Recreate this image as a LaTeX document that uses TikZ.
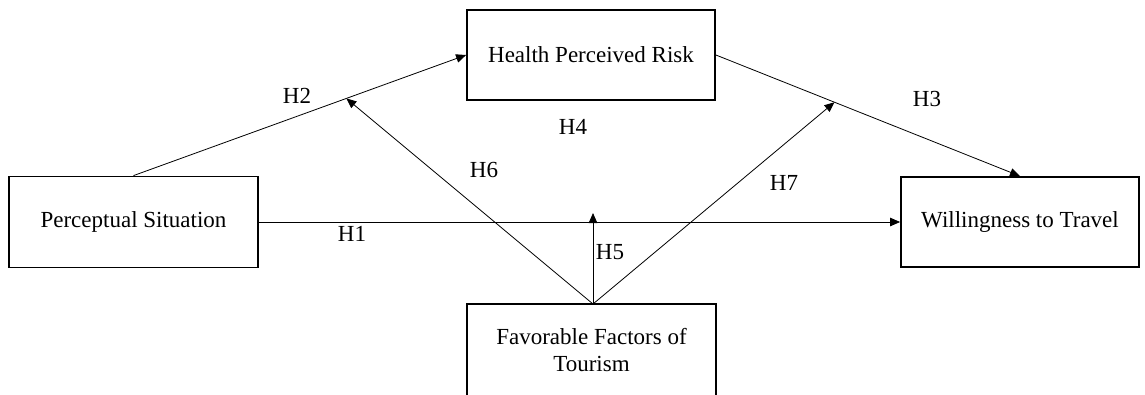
\documentclass[tikz,border=0pt]{standalone}
\usepackage{fontspec}
\setmainfont{Liberation Serif}
\usetikzlibrary{arrows.meta,calc}
\begin{document}
\begin{tikzpicture}[x=1pt,y=-1pt,
  box/.style={draw=black,line width=1.8pt,fill=white,inner sep=0pt,align=center,
    font=\fontsize{23}{27}\selectfont},
  link/.style={draw=black,line width=0.8pt,-{Triangle[length=10pt,width=8.5pt]}},
  lab/.style={font=\fontsize{23}{27}\selectfont,inner sep=0pt}]
\clip (0,0) rectangle (1145,394);
\fill[white] (0,0) rectangle (1145,394);
\node[box,minimum width=249pt,minimum height=91pt] (P) at (133.5,222) {Perceptual Situation};
\node[box,minimum width=248pt,minimum height=90pt] (H) at (591,55) {Health Perceived Risk};
\node[box,minimum width=238pt,minimum height=90pt] (W) at (1020,222) {Willingness to Travel};
\node[box,minimum width=249pt,minimum height=92pt] (F) at (591.5,350) {Favorable Factors of\\Tourism};
\coordinate (m5) at (593,213);
\draw[link] (P.east) -- (W.west);
\draw[link] (P.north) -- (H.west);
\draw[link] (H.east) -- (W.north);
\coordinate (m6) at ($(P.north)!0.64!(H.west)$);
\coordinate (m7) at ($(H.east)!0.39!(W.north)$);
\coordinate (f0) at (593,304);
\draw[link] (f0) -- (m5);
\draw[link] (f0) -- (m6);
\draw[link] (f0) -- (m7);
\node[lab] at (297,96) {H2};
\node[lab] at (573,127) {H4};
\node[lab] at (927,99) {H3};
\node[lab] at (484,170) {H6};
\node[lab] at (784,183) {H7};
\node[lab] at (352,234) {H1};
\node[lab] at (610,252) {H5};
\end{tikzpicture}
\end{document}
